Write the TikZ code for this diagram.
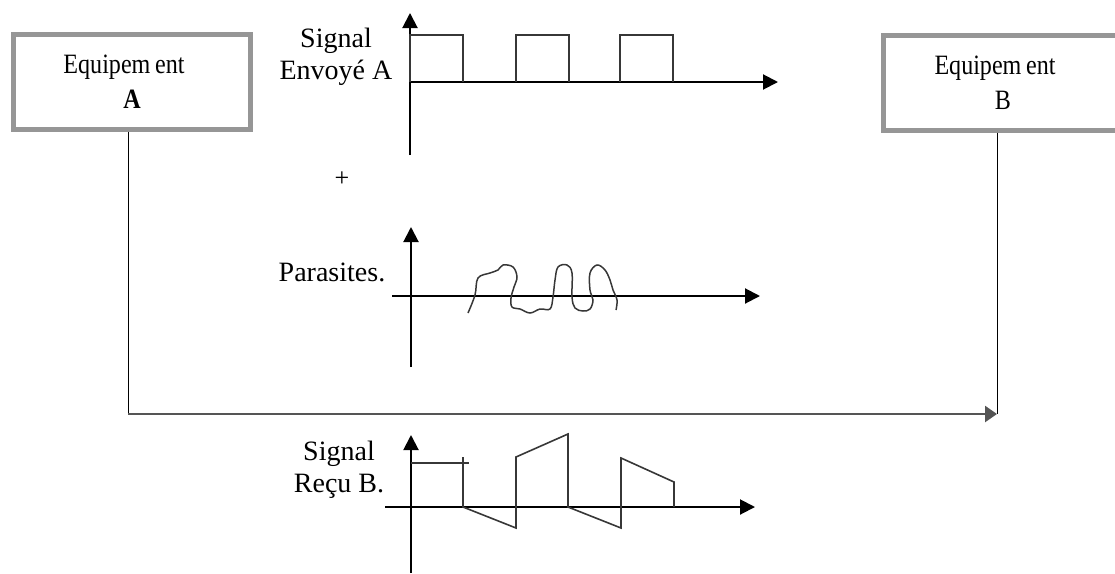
\documentclass[tikz,border=0pt]{standalone}
\usepackage{fontspec}
\setmainfont{Liberation Serif}
\newfontfamily\boxfont[FakeStretch=0.86]{Liberation Serif}
\usepackage{tikz}
\usetikzlibrary{arrows.meta,positioning}

\definecolor{framegray}{RGB}{150,150,150}
\definecolor{tracegray}{RGB}{55,55,55}
\definecolor{busgray}{RGB}{85,85,85}

\begin{document}
\begin{tikzpicture}[x=1pt,y=-1pt,semithick,
    equip/.style={draw=framegray,line width=5pt,fill=white,align=center,
      minimum width=237pt,minimum height=95pt,inner sep=0pt,
      font=\boxfont\fontsize{28}{35}\selectfont},
    sigtext/.style={align=center,font=\fontsize{28}{32}\selectfont},
    sigaxis/.style={line width=2pt,-{Triangle[length=15pt,width=15pt]}},
    trace/.style={draw=tracegray,line width=1.6pt},
    link/.style={line width=1pt},
    bus/.style={draw=busgray,line width=2.5pt,-{Triangle[length=12pt,width=16pt]}}]
    % \draw[help lines,step=50] (0,0) grid (1115,573);
    \useasboundingbox (0,0) rectangle (1115,573);
    \clip (0,0) rectangle (1115,573);

    \node[equip]                      (eqA) at (132,82)   {Equipem\,ent\hspace*{16pt}\\\textbf{A}};
    \node[equip,minimum width=239pt]  (eqB) at (1003,82.5) {Equipem\,ent\hspace*{16pt}\\B};

    \coordinate (corner) at (128,414);
    \coordinate (join)   at (997,414);
    \draw[link] (eqA.south -| corner) -- (corner);
    \draw[bus]  (corner) -- (join);
    \draw[link] (eqB.south -| join) -- (join);

    \node[sigtext] (sent)  at (336,57)  {Signal\\Envoyé A};
    \node[font=\fontsize{26}{26}\selectfont] (plus) at (342,179) {+};
    \node[sigtext] (noise) at (332,272) {Parasites.};
    \node[sigtext] (recv)  at (339,470) {Signal\\Reçu B.};

    % emitted square wave
    \begin{scope}[shift={(410,82)}]
      \draw[sigaxis] (0,73) -- (0,-69);
      \draw[sigaxis] (0,0) -- (368,0);
      \foreach \t in {0,106,210}
        \draw[trace] (\t,0) |- ++(53,-47) -- ++(0,47);
    \end{scope}

    % noise
    \begin{scope}[shift={(411,296)}]
      \draw[sigaxis] (0,71) -- (0,-69);
      \draw[sigaxis] (-19,0) -- (349,0);
      \draw[trace,line width=1.5pt] plot[smooth,tension=0.6] coordinates {
        (57,17) (64,-1) (67,-18) (79,-23) (87,-26) (92,-31) (102,-29)
        (106,-19) (103,-9) (100,2) (101,11) (109,13) (119,17) (129,13)
        (139,13) (142,1) (144,-16) (147,-29) (156,-31) (161,-23) (161,1)
        (164,12) (172,15) (179,13) (182,4) (179,-6) (179,-23) (186,-31)
        (194,-26) (199,-16) (202,-6) (206,4) (205,14)};
    \end{scope}

    % received signal
    \begin{scope}[shift={(411,507)}]
      \draw[sigaxis] (0,66) -- (0,-72);
      \draw[sigaxis] (-26,0) -- (344,0);
      \draw[trace] (0,-44) -- (58,-44);
      \draw[trace] (52,-50) -- (52,0) -- (105,21) -- (105,-50) -- (157,-73)
        -- (157,0) -- (210,21) -- (210,-49) -- (263,-25) -- (263,0);
    \end{scope}
\end{tikzpicture}
\end{document}
